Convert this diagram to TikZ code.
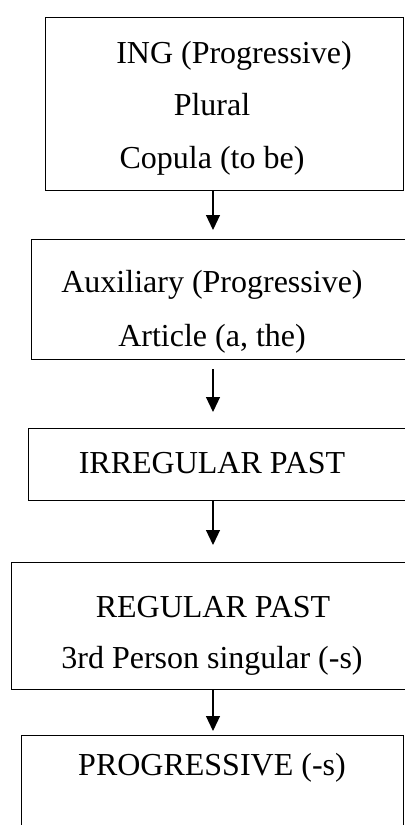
\documentclass[tikz,border=0pt]{standalone}
\usepackage{fontspec}
\setmainfont{Liberation Serif}
\usepackage{tikz}
\usetikzlibrary{arrows.meta,positioning}
\tikzset{
    stagebox/.style={rectangle,draw=black,line width=0.6pt,inner sep=0pt,anchor=north west},
    stagetext/.style={anchor=base,inner sep=0pt,font=\fontsize{16}{19}\selectfont},
    stageflow/.style={-{Triangle[width=7pt,length=7.5pt]},line width=0.6pt}
}
\begin{document}
\begin{tikzpicture}[x=0.5pt,y=-0.5pt]
    % Picture frame
    \clip (0,0) rectangle (405,825);
    \coordinate (col) at (213,0);

    % Stage boxes
    \node[stagebox,minimum width=179pt,minimum height=86.5pt] (ing) at (45,17) {};
    \node[stagebox,minimum width=199.5pt,minimum height=60pt] (aux) at (31,239) {};
    \node[stagebox,minimum width=201pt,minimum height=36pt] (irreg) at (28,428) {};
    \node[stagebox,minimum width=209.5pt,minimum height=63.5pt] (reg) at (11,562) {};
    \node[stagebox,minimum width=191pt,minimum height=67.5pt] (prog) at (21,735) {};

    % Texts
    \node[stagetext] (ingA) at (234,63) {ING (Progressive)};
    \node[stagetext] (ingB) at (212,115) {Plural};
    \node[stagetext] (ingC) at (212,168) {Copula (to be)};
    \node[stagetext] (auxA) at (212,292) {Auxiliary (Progressive)};
    \node[stagetext] (auxB) at (212,346) {Article (a, the)};
    \node[stagetext] (irregA) at (212,473) {IRREGULAR PAST};
    \node[stagetext] (regA) at (213,617) {REGULAR PAST};
    \node[stagetext] (regB) at (212,668) {3rd Person singular (-s)};
    \node[stagetext] (progA) at (212,775) {PROGRESSIVE (-s)};

    % Arrows
    \draw[stageflow,shorten >=4.5pt] (ing.south -| col) -- (aux.north -| col);
    \draw[stageflow,shorten <=4.5pt,shorten >=8pt] (aux.south -| col) -- (irreg.north -| col);
    \draw[stageflow,shorten >=8.5pt] (irreg.south -| col) -- (reg.north -| col);
    \draw[stageflow,shorten >=2pt] (reg.south -| col) -- (prog.north -| col);
\end{tikzpicture}
\end{document}
